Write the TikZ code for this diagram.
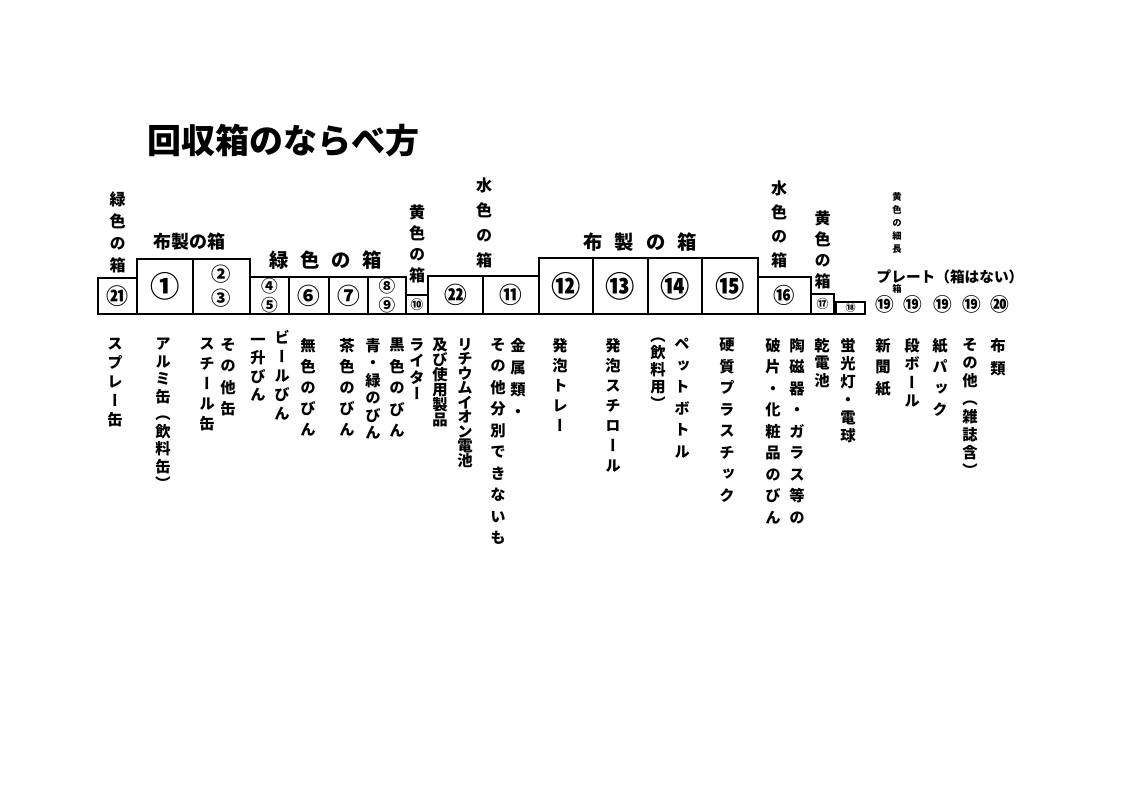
\documentclass[tikz,border=0pt]{standalone}
\usepackage{fontspec}
\newfontfamily\jpfont{Noto Sans CJK JP}
\newfontfamily\tatefont{Noto Sans CJK JP}[RawFeature=+vert]
\usetikzlibrary{positioning}
\tikzstyle{bin}=[draw, line width=1.6pt, inner sep=0pt, anchor=south west]
\tikzstyle{heading}=[inner sep=0pt, anchor=west, font=\jpfont\bfseries\fontsize{25.5}{26}\selectfont]
\tikzstyle{headlabel}=[inner sep=0pt, font=\jpfont\bfseries\fontsize{14.5}{15}\selectfont]
\tikzstyle{tatehead}=[inner sep=0pt, anchor=north, font=\tatefont\bfseries\fontsize{12}{13}\selectfont]
\tikzstyle{tatesmall}=[inner sep=0pt, anchor=north, font=\tatefont\bfseries\fontsize{7}{8}\selectfont]
\tikzstyle{platelabel}=[inner sep=0pt, font=\jpfont\bfseries\fontsize{11}{12}\selectfont]
\tikzstyle{itemtext}=[inner sep=0pt, anchor=north, font=\tatefont\bfseries\fontsize{11.5}{12}\selectfont]
\newcommand{\numsize}[1]{\jpfont\bfseries\fontsize{#1}{#1}\selectfont}
\def\tateloop#1{\ifx\relax#1\else\hbox to 1em{\hss#1\hss}\expandafter\tateloop\fi}
\newcommand{\tate}[2]{\vbox{\baselineskip=0.75\dimexpr#1pt\relax\lineskiplimit=-\maxdimen\tateloop#2\relax}}
\def\spacedloop#1{\ifx\relax#1\else\hbox to 0.75\dimexpr\spacedw pt\relax{\hss#1\hss}\expandafter\spacedloop\fi}
\newcommand{\spaced}[2]{\def\spacedw{#1}\spacedloop#2\relax}
\newcommand{\binbox}[5]{
  \node[bin, minimum width={(#3-#2)*0.75pt}, minimum height={(315-#4)*0.75pt}] (#1) at (#2,315) {#5};
}

\begin{document}
\begin{tikzpicture}[x=0.75pt, y=-0.75pt]
    \useasboundingbox (0,0) rectangle (1123,794);
    \node[heading] (title) at (147,141) {回収箱のならべ方};
    % boxes
    \binbox{b21}{97}{136}{279}{\numsize{16.5}㉑}
    \binbox{b1}{136}{192}{260}{\numsize{22}①}
    \binbox{b23}{192}{249}{260}{\numsize{14.5}\tate{24}{②③}}
    \binbox{b45}{249}{288}{278}{\numsize{12.5}\tate{19}{④⑤}}
    \binbox{b6}{288}{328}{278}{\numsize{17}⑥}
    \binbox{b7}{328}{367}{278}{\numsize{17}⑦}
    \binbox{b89}{367}{405}{278}{\numsize{12.5}\tate{19}{⑧⑨}}
    \binbox{b10}{405}{427}{296}{\numsize{9.5}⑩}
    \binbox{b22}{427}{482}{277}{\numsize{17}㉒}
    \binbox{b11}{482}{538}{277}{\numsize{17}⑪}
    \binbox{b12}{538}{592}{259}{\numsize{22}⑫}
    \binbox{b13}{592}{647}{259}{\numsize{22}⑬}
    \binbox{b14}{647}{701}{259}{\numsize{22}⑭}
    \binbox{b15}{701}{757}{259}{\numsize{22}⑮}
    \binbox{b16}{757}{810}{278}{\numsize{16}⑯}
    \binbox{b17}{810}{833}{295}{\numsize{9}⑰}
    \binbox{b18}{835}{864}{303}{\numsize{7.5}⑱}
    % labels over the boxes
    \node[tatehead, above=3pt of b21] (greenA) {\tate{22}{緑色の箱}};
    \node[headlabel, font=\jpfont\bfseries\fontsize{13.5}{14}\selectfont] (clothA) at (189,242) {布製の箱};
    \node[headlabel] (greenB) at (326,260) {\spaced{31}{緑色の箱}};
    \node[tatehead, above=8pt of b10] (yellowA) {\tate{21}{黄色の箱}};
    \node[tatehead, above=5pt of b22.north east] (waterA) {\tate{25}{水色の箱}};
    \node[headlabel] (clothB) at (640,242) {\spaced{31.5}{布製の箱}};
    \node[tatehead, above=6pt of b16.north, xshift=-4pt] (waterB) {\tate{24}{水色の箱}};
    \node[tatehead, above=3pt of b17] (yellowB) {\tate{21}{黄色の箱}};
    \node[tatesmall] (yellowC) at (897,192) {\tate{13}{黄色の細長}};
    \node[tatesmall] (yellowCbox) at (897,284) {箱};
    \node[platelabel] (plate) at (950,277) {プレート（箱はない）};
    \node[inner sep=0pt] (p19a) at (885,304) {\numsize{14}⑲};
    \node[inner sep=0pt] (p19b) at (913,304) {\numsize{14}⑲};
    \node[inner sep=0pt] (p19c) at (943,304) {\numsize{14}⑲};
    \node[inner sep=0pt] (p19d) at (972,304) {\numsize{14}⑲};
    \node[inner sep=0pt] (p20) at (1000,304) {\numsize{14}⑳};
    % what goes in
    \node[itemtext] (spray) at (115,338) {\tate{19}{スプレー缶}};
    \node[itemtext] (alumi) at (163,338) {\tate{17.5}{アルミ缶（飲料缶）}};
    \node[itemtext] (steel) at (207,338) {\tate{20}{スチール缶}};
    \node[itemtext] (othercan) at (228,338) {\tate{21.5}{その他缶}};
    \node[itemtext] (issho) at (258,338) {\tate{18.5}{一升びん}};
    \node[itemtext] (beer) at (282,330) {\tate{19}{ビールびん}};
    \node[itemtext] (clear) at (308,338) {\tate{21}{無色のびん}};
    \node[itemtext] (brown) at (347,338) {\tate{21}{茶色のびん}};
    \node[itemtext] (bluegreen) at (373,338) {\tate{17.5}{青・緑のびん}};
    \node[itemtext] (black) at (397,338) {\tate{21.5}{黒色のびん}};
    \node[itemtext] (lighter) at (417,338) {\tate{16.5}{ライター}};
    \node[itemtext] (used) at (440,338) {\tate{15}{及び使用製品}};
    \node[itemtext] (lithium) at (465,338) {\tate{14.5}{リチウムイオン電池}};
    \node[itemtext] (unsorted) at (498,338) {\tate{21.5}{その他分別できないも}};
    \node[itemtext] (metal) at (518,338) {\tate{22}{金属類・}};
    \node[itemtext] (tray) at (560,338) {\tate{20}{発泡トレー}};
    \node[itemtext] (styro) at (613,338) {\tate{20}{発泡スチロール}};
    \node[itemtext] (drink) at (658,338) {\tate{17}{（飲料用）}};
    \node[itemtext] (pet) at (682,338) {\tate{21.5}{ペットボトル}};
    \node[itemtext] (hard) at (727,338) {\tate{21.5}{硬質プラスチック}};
    \node[itemtext] (shard) at (773,338) {\tate{21.5}{破片・化粧品のびん}};
    \node[itemtext] (ceramic) at (797,338) {\tate{21.5}{陶磁器・ガラス等の}};
    \node[itemtext] (battery) at (822,338) {\tate{17.5}{乾電池}};
    \node[itemtext] (lamp) at (848,338) {\tate{18}{蛍光灯・電球}};
    \node[itemtext] (news) at (883,338) {\tate{21.5}{新聞紙}};
    \node[itemtext] (card) at (912,338) {\tate{18.5}{段ボール}};
    \node[itemtext] (pack) at (940,338) {\tate{21.5}{紙パック}};
    \node[itemtext] (paper) at (970,338) {\tate{18}{その他（雑誌含）}};
    \node[itemtext] (cloth) at (998,338) {\tate{23}{布類}};
  \end{tikzpicture}
\end{document}
